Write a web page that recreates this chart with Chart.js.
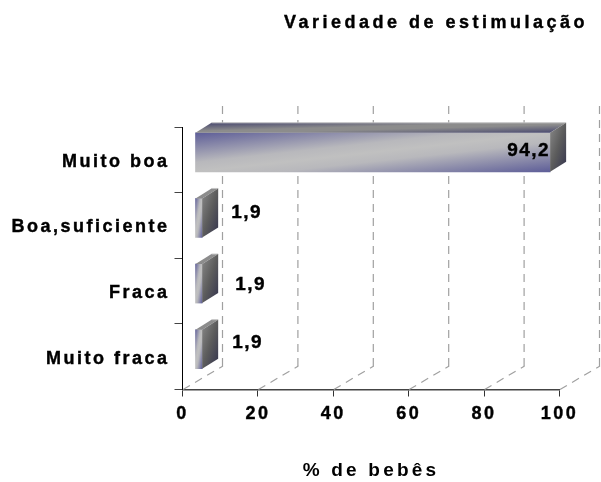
<!DOCTYPE html>
<html>
<head>
<meta charset="utf-8">
<title>Variedade de estimulação</title>
<script src="https://cdn.jsdelivr.net/npm/chart.js@4"></script>
<style>
    html, body { margin: 0; padding: 0; background: #fff; }
    #wrap { width: 601px; height: 482px; }
</style>
</head>
<body>
<div id="wrap"><canvas id="stimChart" width="601" height="482"></canvas></div>
<script>
// Data
const categories = ["Muito boa", "Boa,suficiente", "Fraca", "Muito fraca"];
const percentages = [94.2, 1.9, 1.9, 1.9];
const valueLabels = ["94,2", "1,9", "1,9", "1,9"];
const xTicks = [0, 20, 40, 60, 80, 100];
const chartTitle = "Variedade de estimulação";
const xTitle = "% de bebês";

const FONT = '"Liberation Sans", Arial, sans-serif';

// 3D look: floor depth, bar shift off the axis plane, bar depth
const FLOOR_DX = 40, FLOOR_DY = -23.5;
const BAR_SHIFT_X = 12.5, BAR_SHIFT_Y = -7.5;
const BAR_DX = 16, BAR_DY = -10;
const GRID_TOP = 100;

// Corner to corner gradient, as the old office charts do it
function diagonal(ctx, x, y, w, h, stops) {
    const cx = x + w / 2, cy = y + h / 2;
    const t = (w * h) / (w * w + h * h);
    const g = ctx.createLinearGradient(cx - t * h, cy - t * w, cx + t * h, cy + t * w);
    stops.forEach(s => g.addColorStop(s[0], s[1]));
    return g;
}

const FRONT = [[0, "#5e5e98"], [0.38, "#b8b8bc"], [0.5, "#c0c0c0"], [0.62, "#b8b8bc"], [1, "#5e5e98"]];
const TOP = [[0, "#46466e"], [0.42, "#8c8c8c"], [0.58, "#8c8c8c"], [1, "#46466e"]];
const SIDE = [[0, "#8a8a8a"], [0.5, "#5c5c5c"], [1, "#34344e"]];

// Grid on the back wall and floor, drawn from the x scale
const depthGrid = {
    id: "depthGrid",
    beforeDatasetsDraw(chart) {
        const { ctx, scales } = chart;
        const bottom = scales.y.bottom;
        ctx.save();
        ctx.strokeStyle = "#a0a0a0";
        ctx.lineWidth = 1.2;
        scales.x.ticks.forEach(tick => {
            const x = scales.x.getPixelForValue(tick.value);
            ctx.setLineDash([8, 6]);
            ctx.beginPath();
            ctx.moveTo(x + 0.5, bottom);
            ctx.lineTo(x + FLOOR_DX + 0.5, bottom + FLOOR_DY);
            ctx.stroke();
            ctx.beginPath();
            ctx.moveTo(x + FLOOR_DX, bottom + FLOOR_DY);
            ctx.lineTo(x + FLOOR_DX, GRID_TOP);
            ctx.stroke();
        });
        ctx.restore();
    },
};

// Shifts the bars off the axis and adds the top and side faces
const bars3d = {
    id: "bars3d",
    beforeDatasetDraw(chart) {
        chart.ctx.save();
        chart.ctx.translate(BAR_SHIFT_X, BAR_SHIFT_Y);
    },
    afterDatasetDraw(chart, args) {
        const ctx = chart.ctx;
        args.meta.data.forEach(bar => {
            const { x, y, base, height } = bar.getProps(["x", "y", "base", "height"], true);
            const top = y - height / 2, bottom = y + height / 2;

            ctx.fillStyle = diagonal(ctx, base, top + BAR_DY, x - base + BAR_DX, -BAR_DY, TOP);
            ctx.beginPath();
            ctx.moveTo(base, top);
            ctx.lineTo(base + BAR_DX, top + BAR_DY);
            ctx.lineTo(x + BAR_DX, top + BAR_DY);
            ctx.lineTo(x, top);
            ctx.closePath();
            ctx.fill();

            // light edge along the back of the top face
            ctx.strokeStyle = "#c4c4c4";
            ctx.lineWidth = 1;
            ctx.beginPath();
            ctx.moveTo(base + BAR_DX, top + BAR_DY);
            ctx.lineTo(x + BAR_DX, top + BAR_DY);
            ctx.stroke();

            ctx.fillStyle = diagonal(ctx, x, top + BAR_DY, BAR_DX, height - BAR_DY, SIDE);
            ctx.beginPath();
            ctx.moveTo(x, top);
            ctx.lineTo(x + BAR_DX, top + BAR_DY);
            ctx.lineTo(x + BAR_DX, bottom + BAR_DY);
            ctx.lineTo(x, bottom);
            ctx.closePath();
            ctx.fill();
        });
        ctx.restore();
    },
};

// Value labels and the chart title
const texts = {
    id: "texts",
    afterDraw(chart) {
        const { ctx, scales } = chart;
        // nudges away from the bar end and centre, by eye
        const nudges = [[0, -2], [29, -5], [33, 1], [30, -6]];
        ctx.save();
        ctx.fillStyle = "#000";
        ctx.strokeStyle = "#000";
        ctx.lineWidth = 0.4;
        ctx.textBaseline = "middle";
        ctx.font = "bold 19px " + FONT;
        ctx.letterSpacing = "1.5px";
        percentages.forEach((v, i) => {
            const x = scales.x.getPixelForValue(v) + BAR_SHIFT_X;
            const y = scales.y.getPixelForValue(i) + BAR_SHIFT_Y;
            ctx.textAlign = i === 0 ? "right" : "left";
            ctx.fillText(valueLabels[i], x + nudges[i][0], y + nudges[i][1]);
            ctx.strokeText(valueLabels[i], x + nudges[i][0], y + nudges[i][1]);
        });
        ctx.font = "bold 18px " + FONT;
        ctx.letterSpacing = "3.5px";
        ctx.textAlign = "right";
        ctx.fillText(chartTitle, 588, 23);
        ctx.strokeText(chartTitle, 588, 23);
        ctx.restore();
    },
};

// Chart.js has no letter spacing option, so set it around the scale's own text drawing
function spaceText(scale, method, spacing, dy) {
    const original = scale[method];
    scale[method] = function (area) {
        this.ctx.save();
        this.ctx.translate(0, dy);
        this.ctx.letterSpacing = spacing;
        original.call(this, area);
        this.ctx.restore();
    };
}

const letterSpacing = {
    id: "letterSpacing",
    afterLayout(chart) {
        const { x, y } = chart.scales;
        if (x.spaced) return;
        x.spaced = true;
        spaceText(x, "drawLabels", "2.5px", 0);
        spaceText(x, "drawTitle", "3.2px", 0);
        spaceText(y, "drawLabels", "2.5px", 2);
    },
};

new Chart(document.getElementById("stimChart").getContext("2d"), {
    type: "bar",
    data: {
        labels: categories,
        datasets: [{
            data: percentages,
            barThickness: 39,
            borderWidth: 0,
            clip: false,
            backgroundColor(context) {
                const { chart, dataIndex } = context;
                const { x, y } = chart.scales;
                const left = x.getPixelForValue(0);
                const width = x.getPixelForValue(percentages[dataIndex]) - left;
                const top = y.getPixelForValue(dataIndex) - 19.5;
                // scales are not laid out yet on the first pass
                if (!(width > 0) || !isFinite(top)) return "#c0c0c0";
                return diagonal(chart.ctx, left, top, width, 39, FRONT);
            },
        }],
    },
    options: {
        indexAxis: "y",
        responsive: false,
        animation: false,
        layout: { padding: { top: 127, right: 41.5, left: 0, bottom: 0 } },
        plugins: {
            legend: { display: false },
            tooltip: { enabled: false },
        },
        scales: {
            x: {
                min: 0,
                max: 100,
                afterBuildTicks(scale) {
                    scale.ticks = xTicks.map(value => ({ value }));
                },
                afterFit(scale) { scale.height = 92.5; },
                border: { color: "#444", width: 1.5 },
                grid: { drawOnChartArea: false, color: "#333", tickLength: 7 },
                ticks: {
                    color: "#000",
                    padding: 7,
                    maxRotation: 0,
                    textStrokeColor: "#000",
                    textStrokeWidth: 0.4,
                    font: { family: FONT, size: 18, weight: "bold" },
                },
                title: {
                    display: true,
                    text: xTitle,
                    color: "#000",
                    padding: { top: 0, bottom: 0 },
                    font: { family: FONT, size: 19, weight: "bold" },
                },
            },
            y: {
                afterFit(scale) { scale.width = 182.5; },
                border: { color: "#000", width: 1 },
                grid: { drawOnChartArea: false, color: "#444", tickLength: 8 },
                ticks: {
                    color: "#000",
                    padding: 5,
                    autoSkip: false,
                    textStrokeColor: "#000",
                    textStrokeWidth: 0.4,
                    font: { family: FONT, size: 18, weight: "bold" },
                },
            },
        },
    },
    plugins: [depthGrid, bars3d, texts, letterSpacing],
});
</script>
</body>
</html>
